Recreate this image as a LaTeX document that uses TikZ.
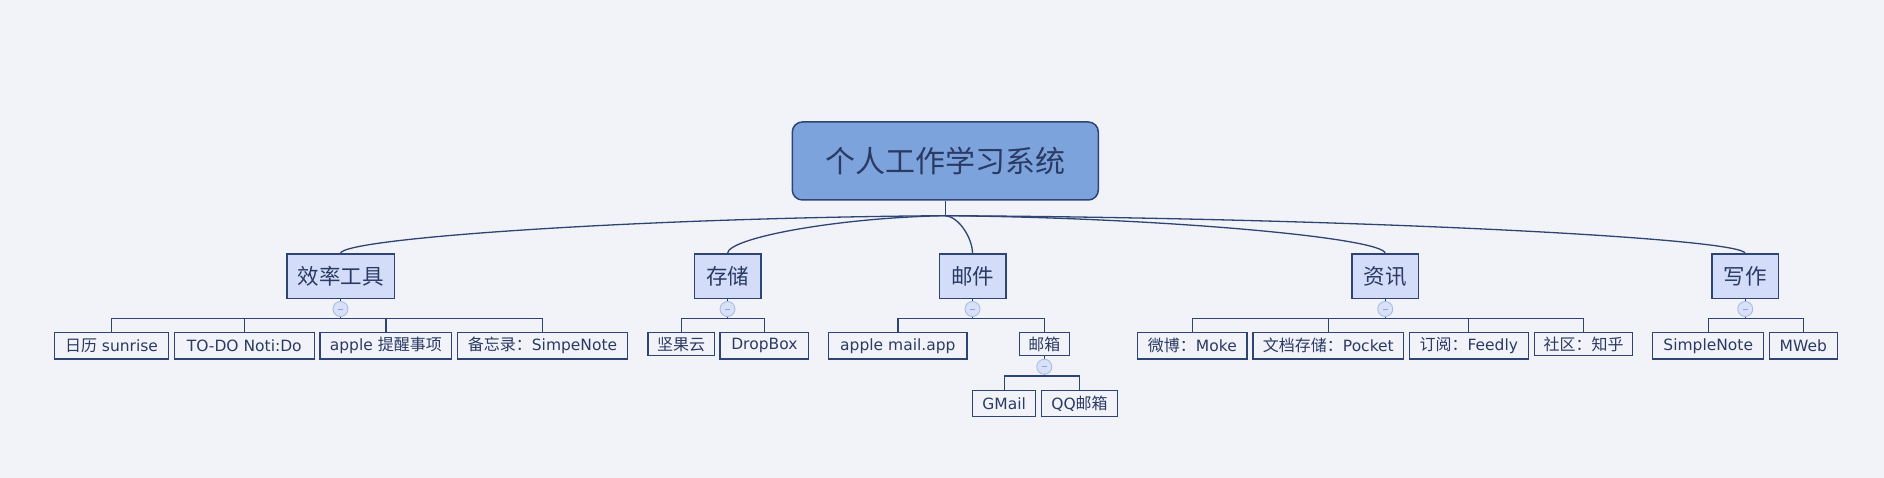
\documentclass[tikz,border=0pt]{standalone}
\usepackage{fontspec}
\setmainfont{DejaVu Sans}
\newfontfamily\cjk{Noto Sans CJK SC}
\definecolor{bg}{HTML}{F1F3F9}
\definecolor{ink}{HTML}{2E4472}
\definecolor{txt}{HTML}{2B3A63}
\definecolor{rootfill}{HTML}{7DA3DD}
\definecolor{catfill}{HTML}{D3DDF9}
\definecolor{foldfill}{HTML}{D8E1F8}
\definecolor{folddraw}{HTML}{A9BDE7}
\definecolor{foldmark}{HTML}{8EA5D6}
\tikzset{
  rootbox/.style={draw=ink, fill=rootfill, line width=1.5pt, rounded corners=10pt,
    minimum width=306pt, minimum height=78pt, inner sep=0pt, text=txt, font=\cjk\fontsize{30}{34}\selectfont},
  catbox/.style={draw=ink, fill=catfill, line width=1.6pt, minimum width=66.4pt,
    minimum height=44pt, inner sep=0pt, text=txt, font=\cjk\fontsize{21.5}{24}\selectfont},
  leafbox/.style={draw=ink, fill=bg, line width=1.3pt, minimum height=26.3pt,
    inner sep=0pt, text=txt, font=\fontsize{15.5}{18}\selectfont},
  leafshort/.style={leafbox, minimum height=23pt},
  conn/.style={draw=ink, line width=1.3pt},
  fold/.style={circle, draw=folddraw, fill=foldfill, line width=0.9pt, minimum size=15pt, inner sep=0pt},
  foldminus/.style={draw=foldmark, line width=1pt}
}
\newcommand{\ck}[1]{{\cjk\fontsize{16}{18}\selectfont #1}}
\begin{document}
\begin{tikzpicture}[x=1pt,y=-1pt]
\fill[bg] (0,0) rectangle (1884,478);
\useasboundingbox (0,0) rectangle (1884,478);

% root
\node[rootbox] (root) at (945.3,161) {个人工作学习系统};
\coordinate (J) at (945.3,215.7);

% categories
\node[catbox, minimum width=107.6pt] (c1) at (340.5,276.3) {效率工具};
\node[catbox] (c2) at (727.5,276.3) {存储};
\node[catbox] (c3) at (972.5,276.3) {邮件};
\node[catbox] (c4) at (1385.2,276.3) {资讯};
\node[catbox] (c5) at (1745.2,276.3) {写作};

% root connectors
\draw[conn] (root.south) -- (J);
\draw[conn] (J) .. controls +(-302,2) and +(0,-15.4) .. (c1.north);
\draw[conn] (J) .. controls +(-109,2) and +(0,-15.4) .. (c2.north);
\draw[conn] (J) .. controls +(13.6,1) and +(0,-15.4) .. (c3.north);
\draw[conn] (J) .. controls +(220,2) and +(0,-15.4) .. (c4.north);
\draw[conn] (J) .. controls +(400,2) and +(0,-15.4) .. (c5.north);

% leaves of 效率工具
\node[leafbox, minimum width=114.4pt] (l11) at (111.5,345.85) {\ck{日历} sunrise};
\node[leafbox, minimum width=140pt] (l12) at (244.3,345.85) {TO-DO Noti:Do};
\node[leafbox, minimum width=131.7pt] (l13) at (385.85,345.85) {apple \ck{提醒事项}};
\node[leafbox, minimum width=170.4pt] (l14) at (542.5,345.85) {\ck{备忘录：}SimpeNote};
\coordinate (b1) at (340.5,318.3);
\draw[conn] (c1.south) -- (b1);
\draw[conn] (l11.north) |- (b1) -| (l14.north);
\draw[conn] (l12.north) -- (l12.north |- b1);
\draw[conn] (l13.north) -- (l13.north |- b1);
\node[fold] (f1) at (340.5,309) {};
\draw[foldminus] ([xshift=-2.6pt]f1.center) -- ([xshift=2.6pt]f1.center);

% leaves of 存储
\node[leafshort, minimum width=66.3pt] (l21) at (681.15,344.2) {\ck{坚果云}};
\node[leafbox, minimum width=88.7pt] (l22) at (764.35,345.85) {DropBox};
\coordinate (b2) at (727.5,318.3);
\draw[conn] (c2.south) -- (b2);
\draw[conn] (l21.north) |- (b2) -| (l22.north);
\node[fold] (f2) at (727.5,309) {};
\draw[foldminus] ([xshift=-2.6pt]f2.center) -- ([xshift=2.6pt]f2.center);

% leaves of 邮件
\node[leafbox, minimum width=138.3pt] (l31) at (897.85,345.85) {apple mail.app};
\node[leafshort, minimum width=50pt] (l32) at (1044.3,344.2) {\ck{邮箱}};
\coordinate (b3) at (972.5,318.3);
\draw[conn] (c3.south) -- (b3);
\draw[conn] (l31.north) |- (b3) -| (l32.north);
\node[fold] (f3) at (972.5,309) {};
\draw[foldminus] ([xshift=-2.6pt]f3.center) -- ([xshift=2.6pt]f3.center);

% leaves of 邮箱
\node[leafbox, minimum width=63pt, minimum height=25.6pt] (l321) at (1004.2,403.5) {GMail};
\node[leafbox, minimum width=75.6pt, minimum height=25.6pt] (l322) at (1079.5,403.5) {QQ\ck{邮箱}};
\coordinate (b32) at (1044.3,376);
\draw[conn] (l32.south) -- (b32);
\draw[conn] (l321.north) |- (b32) -| (l322.north);
\node[fold] (f32) at (1044.3,366.7) {};
\draw[foldminus] ([xshift=-2.6pt]f32.center) -- ([xshift=2.6pt]f32.center);

% leaves of 资讯
\node[leafbox, minimum width=109.3pt] (l41) at (1192.35,345.85) {\ck{微博：}Moke};
\node[leafbox, minimum width=150.7pt] (l42) at (1328.35,345.85) {\ck{文档存储：}Pocket};
\node[leafbox, minimum width=119pt] (l43) at (1468.8,345.85) {\ck{订阅：}Feedly};
\node[leafshort, minimum width=97.6pt] (l44) at (1583.5,344.2) {\ck{社区：知乎}};
\coordinate (b4) at (1385.2,318.3);
\draw[conn] (c4.south) -- (b4);
\draw[conn] (l41.north) |- (b4) -| (l44.north);
\draw[conn] (l42.north) -- (l42.north |- b4);
\draw[conn] (l43.north) -- (l43.north |- b4);
\node[fold] (f4) at (1385.2,309) {};
\draw[foldminus] ([xshift=-2.6pt]f4.center) -- ([xshift=2.6pt]f4.center);

% leaves of 写作
\node[leafbox, minimum width=111pt] (l51) at (1708.2,345.85) {SimpleNote};
\node[leafbox, minimum width=68pt] (l52) at (1803.3,345.85) {MWeb};
\coordinate (b5) at (1745.2,318.3);
\draw[conn] (c5.south) -- (b5);
\draw[conn] (l51.north) |- (b5) -| (l52.north);
\node[fold] (f5) at (1745.2,309) {};
\draw[foldminus] ([xshift=-2.6pt]f5.center) -- ([xshift=2.6pt]f5.center);
\end{tikzpicture}
\end{document}
